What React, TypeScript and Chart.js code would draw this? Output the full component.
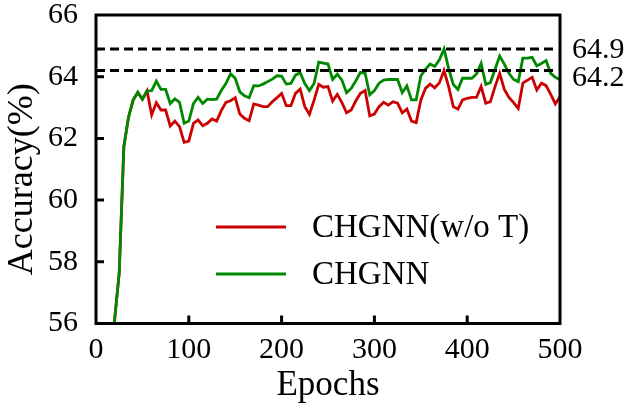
import React, { useEffect, useRef } from "react";
import { Chart, registerables } from "chart.js";

Chart.register(...registerables);

const epochs = [
  15, 20, 25, 30, 35, 40, 45, 50, 55, 60, 65, 70, 75, 80, 85, 90, 95, 100,
  105, 110, 115, 120, 125, 130, 135, 140, 145, 150, 155, 160, 165, 170, 175, 180,
  185, 190, 195, 200, 205, 210, 215, 220, 225, 230, 235, 240, 245, 250, 255, 260,
  265, 270, 275, 280, 285, 290, 295, 300, 305, 310, 315, 320, 325, 330, 335, 340,
  345, 350, 355, 360, 365, 370, 375, 380, 385, 390, 395, 400, 405, 410, 415, 420,
  425, 430, 435, 440, 445, 450, 455, 460, 465, 470, 475, 480, 485, 490, 495, 500,
];

const accWithoutT = [
  50.0, 56.1, 57.63, 61.73, 62.68, 63.24, 63.49, 63.27, 63.54, 62.76, 63.16, 62.92, 62.92, 62.4, 62.56, 62.38, 61.87, 61.91,
  62.49, 62.6, 62.41, 62.49, 62.63, 62.56, 62.9, 63.17, 63.22, 63.32, 62.79, 62.65, 62.57, 63.12, 63.08, 63.03,
  63.03, 63.19, 63.32, 63.46, 63.06, 63.06, 63.46, 63.6, 63.03, 62.78, 63.24, 63.75, 63.66, 63.68, 63.21, 63.43,
  63.16, 62.83, 62.92, 63.22, 63.46, 63.55, 62.73, 62.79, 63.03, 63.17, 63.08, 63.19, 63.14, 62.83, 62.95, 62.56,
  62.51, 63.24, 63.62, 63.76, 63.64, 63.8, 64.2, 63.68, 63.03, 62.95, 63.25, 63.3, 63.33, 63.33, 63.68, 63.14,
  63.19, 63.68, 64.11, 63.59, 63.33, 63.16, 62.97, 63.79, 63.89, 63.98, 63.57, 63.79, 63.71, 63.43, 63.12, 63.35,
];

const accCHGNN = [
  50.0, 56.1, 57.63, 61.73, 62.68, 63.24, 63.49, 63.27, 63.54, 63.55, 63.86, 63.59, 63.59, 63.13, 63.28, 63.17, 62.49, 62.56,
  63.13, 63.33, 63.13, 63.27, 63.26, 63.27, 63.55, 63.78, 64.09, 63.95, 63.51, 63.38, 63.32, 63.71, 63.7, 63.76,
  63.84, 63.92, 64.03, 64.02, 63.76, 63.78, 64.05, 64.13, 63.78, 63.55, 63.78, 64.47, 64.44, 64.41, 63.91, 64.08,
  63.89, 63.48, 63.62, 63.87, 64.14, 64.11, 63.41, 63.55, 63.79, 63.89, 63.91, 63.91, 63.91, 63.48, 63.7, 63.25,
  63.25, 64.02, 64.24, 64.41, 64.33, 64.55, 64.9, 64.27, 63.75, 63.59, 63.95, 63.95, 63.95, 64.09, 64.43, 63.75,
  63.81, 64.24, 64.67, 64.41, 64.11, 63.91, 63.84, 64.6, 64.6, 64.63, 64.35, 64.43, 64.52, 64.11, 63.98, 63.9,
];

const seriesNames = ["CHGNN(w/o T)", "CHGNN"];
const seriesColors = ["#cc0000", "#008800"];
const refValues = [64.9, 64.2];
const refLabels = ["64.9", "64.2"];
const refXRange = [0, 495];
const xTickValues = [100, 200, 300, 400];
const yTickValues = [58, 60, 62, 64];
const xTitle = "Epochs";
const yTitle = "Accuracy(%)";

const FONT = "'Liberation Serif', 'Times New Roman', serif";
const refLabelShift = [1.5, 7.5];

const framePlugin = {
  id: "frameAndExtras",
  afterDatasetsDraw(chart: any) {
    const { ctx, chartArea } = chart;
    const xs = chart.scales.x;
    const ys = chart.scales.y;
    ctx.save();
    ctx.strokeStyle = "#000";
    ctx.lineWidth = 3;
    ctx.beginPath();
    xTickValues.forEach((v) => {
      const px = xs.getPixelForValue(v);
      ctx.moveTo(px, chartArea.bottom);
      ctx.lineTo(px, chartArea.bottom - 8);
    });
    yTickValues.forEach((v) => {
      const py = ys.getPixelForValue(v);
      ctx.moveTo(chartArea.left, py);
      ctx.lineTo(chartArea.left + 8, py);
    });
    ctx.stroke();
    ctx.strokeRect(
      chartArea.left,
      chartArea.top,
      chartArea.right - chartArea.left,
      chartArea.bottom - chartArea.top
    );
    ctx.fillStyle = "#000";
    ctx.font = `30px ${FONT}`;
    ctx.textAlign = "left";
    ctx.textBaseline = "middle";
    refValues.forEach((v, i) => {
      ctx.fillText(refLabels[i], chartArea.right + 12, ys.getPixelForValue(v) + refLabelShift[i]);
    });
    ctx.font = `33px ${FONT}`;
    const ds = chart.data.datasets;
    [0, 1].forEach((i) => {
      const y = chartArea.top + 212 + i * 47;
      const x0 = chartArea.left + 120;
      ctx.strokeStyle = ds[i].borderColor;
      ctx.lineWidth = 2.8;
      ctx.beginPath();
      ctx.moveTo(x0, y);
      ctx.lineTo(x0 + 70, y);
      ctx.stroke();
      ctx.fillStyle = "#000";
      ctx.fillText(ds[i].label, x0 + 96, y + 1);
    });
    // y axis title
    ctx.save();
    ctx.translate(32, (chartArea.top + chartArea.bottom) / 2 + 10);
    ctx.rotate(-Math.PI / 2);
    ctx.font = `36px ${FONT}`;
    ctx.textAlign = "center";
    ctx.textBaseline = "alphabetic";
    ctx.fillText(yTitle, 0, 0);
    ctx.restore();
    ctx.restore();
  },
};

export default function App() {
  const canvasRef = useRef<HTMLCanvasElement | null>(null);

  useEffect(() => {
    if (!canvasRef.current) return;
    const toPoints = (vals: number[]) => epochs.map((e, i) => ({ x: e, y: vals[i] }));
    const refDatasets = refValues.map((v) => ({
      label: "ref",
      data: refXRange.map((x) => ({ x, y: v })),
      borderColor: "#000",
      borderWidth: 3,
      borderDash: [9, 5],
      pointRadius: 0,
      order: 0,
    }));
    const chart = new Chart(canvasRef.current, {
      type: "line",
      data: {
        datasets: [
          {
            label: seriesNames[0],
            data: toPoints(accWithoutT),
            borderColor: seriesColors[0],
            borderWidth: 2.8,
            pointRadius: 0,
            tension: 0,
            order: 2,
          },
          {
            label: seriesNames[1],
            data: toPoints(accCHGNN),
            borderColor: seriesColors[1],
            borderWidth: 2.8,
            pointRadius: 0,
            tension: 0,
            order: 1,
          },
          ...refDatasets,
        ],
      },
      options: {
        animation: false,
        responsive: true,
        maintainAspectRatio: false,
        layout: { padding: { top: 15, right: 70, left: 0, bottom: 0 } },
        plugins: {
          legend: { display: false },
          tooltip: { enabled: false },
        },
        scales: {
          x: {
            type: "linear",
            min: 0,
            max: 500,
            grid: { display: false },
            border: { display: false },
            ticks: {
              stepSize: 100,
              color: "#000",
              font: { family: FONT, size: 30 },
              padding: 1,
              maxRotation: 0,
            },
            title: {
              display: true,
              text: xTitle,
              color: "#000",
              font: { family: FONT, size: 35 },
              padding: { top: 0, bottom: 3 },
            },
            afterFit: (scale: any) => {
              scale.height = 86.5;
              scale.paddingLeft = 0;
              scale.paddingRight = 0;
            },
          },
          y: {
            type: "linear",
            min: 56,
            max: 66,
            grid: { display: false },
            border: { display: false },
            ticks: {
              stepSize: 2,
              color: "#000",
              font: { family: FONT, size: 30 },
              padding: 10,
            },
            title: { display: false },
            afterFit: (scale: any) => {
              scale.width = 96;
              scale.paddingTop = 0;
              scale.paddingBottom = 0;
            },
          },
        },
      },
      plugins: [framePlugin],
    });
    return () => chart.destroy();
  }, []);

  return (
    <div style={{ position: "fixed", left: 0, top: 0, width: 630, height: 410, background: "#fff" }}>
      <canvas ref={canvasRef} />
    </div>
  );
}
